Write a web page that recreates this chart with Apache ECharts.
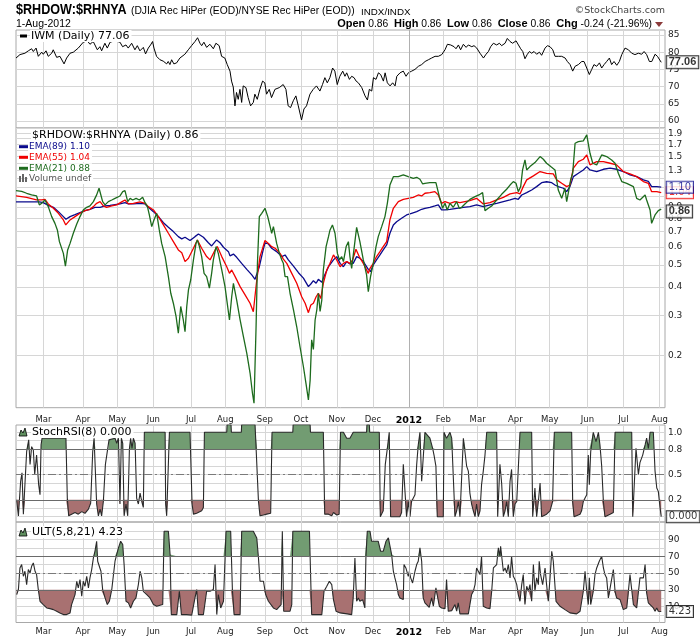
<!DOCTYPE html>
<html><head><meta charset="utf-8">
<script src="https://cdn.jsdelivr.net/npm/echarts@6.0.0/dist/echarts.min.js"></script>
<style>html,body{margin:0;padding:0;background:#fff}#c{width:700px;height:639px}</style>
</head><body><div id="c"></div>
<script>
// ---- x axis: trading-day index (0 = first session shown, early Feb 2011) ----
const monthStarts = [16,39,59,80,102,122,145,166,187,208,229,249,269,291,311,333,354,375];
const monthLabels = ['Mar','Apr','May','Jun','Jul','Aug','Sep','Oct','Nov','Dec','2012','Feb','Mar','Apr','May','Jun','Jul','Aug'];
const lastIdx = 376;

// ---- IWM (Daily) ----
const iwm = [[0,78.3],[2.3,79.3],[5.2,79.7],[7.2,80.4],[9.1,81.0],[10.1,80.2],[11.7,81.2],[13.0,78.8],[15.0,80.0],[15.9,79.4],[17.5,80.4],[18.8,78.8],[20.8,79.7],[21.7,80.7],[23.7,78.5],[25.6,78.8],[28.0,76.6],[29.5,78.3],[31.5,79.7],[33.4,80.0],[36.3,81.2],[39.2,82.9],[41.6,83.3],[43.1,82.3],[45.0,83.1],[47.4,80.7],[48.9,81.6],[49.9,80.4],[51.8,82.6],[53.2,81.2],[54.8,82.9],[57.7,83.3],[60.6,82.9],[62.1,81.6],[64.1,82.1],[65.4,81.2],[67.4,82.6],[69.3,80.7],[70.7,81.9],[72.2,80.4],[74.2,81.4],[75.5,79.5],[77.1,81.2],[78.4,82.1],[79.6,83.1],[80.4,81.2],[81.9,78.8],[83.9,77.8],[85.8,77.4],[87.8,76.6],[88.7,77.3],[89.7,76.4],[90.7,77.8],[92.0,76.6],[93.6,76.9],[95.5,78.3],[96.5,77.8],[98.4,79.4],[100.4,80.7],[102.3,81.9],[104.3,83.1],[105.8,84.2],[107.2,82.6],[108.2,81.9],[109.5,82.9],[111.1,81.4],[113.0,82.3],[115.0,81.0],[116.5,82.6],[118.4,81.9],[119.8,78.8],[121.7,78.3],[123.1,76.4],[124.7,74.5],[125.6,71.6],[126.6,69.9],[127.6,64.4],[128.5,68.3],[129.5,66.3],[130.5,69.2],[131.5,65.4],[132.4,70.2],[134.0,69.7],[135.3,66.8],[136.7,64.4],[138.3,65.4],[139.2,67.8],[140.6,66.3],[142.1,69.2],[143.7,71.6],[145.0,71.1],[146.0,67.8],[147.6,69.2],[148.9,66.8],[150.9,69.2],[153.4,69.7],[155.7,70.6],[157.3,69.2],[158.6,64.4],[160.0,63.9],[161.6,65.9],[163.1,67.3],[164.5,64.4],[166.4,60.3],[167.8,63.5],[169.3,64.4],[171.3,67.8],[173.2,69.2],[175.1,70.2],[177.1,68.7],[178.6,70.6],[180.0,72.6],[181.4,71.1],[182.9,72.6],[184.5,75.4],[185.8,74.5],[187.2,70.6],[188.7,73.0],[190.4,74.5],[191.7,73.0],[192.7,74.0],[194.3,72.1],[195.6,73.0],[197.0,72.6],[198.2,71.6],[199.5,71.1],[201.5,69.7],[203.4,67.3],[204.8,66.1],[205.9,69.2],[207.3,68.7],[208.3,72.6],[209.8,72.1],[211.2,74.0],[212.5,73.5],[214.1,71.6],[215.1,74.0],[216.4,71.1],[218.0,70.2],[219.5,71.1],[220.9,70.2],[221.9,73.0],[223.8,74.0],[225.7,74.5],[227.3,73.0],[228.6,74.0],[230.6,74.5],[232.5,75.0],[234.5,75.9],[236.4,76.4],[238.4,77.3],[240.3,77.8],[242.2,78.3],[244.2,78.8],[246.1,78.8],[248.1,79.3],[250.0,80.7],[251.4,82.3],[253.3,82.1],[255.3,81.6],[256.4,81.0],[257.8,82.1],[259.1,80.7],[260.7,82.3],[262.3,81.4],[263.6,82.1],[265.6,81.6],[266.9,81.9],[268.5,81.2],[270.4,79.7],[272.4,78.3],[273.9,79.4],[275.3,80.2],[276.6,81.6],[278.2,82.6],[280.1,82.1],[281.7,82.6],[283.0,81.9],[285.0,82.6],[286.3,84.0],[287.9,83.1],[289.4,82.6],[291.4,83.3],[292.8,82.1],[294.1,81.0],[295.3,80.2],[296.6,78.1],[298.0,79.4],[299.2,80.2],[300.5,79.7],[301.9,80.2],[303.4,79.4],[305.0,80.0],[306.3,79.1],[308.3,81.2],[309.7,81.9],[311.2,81.6],[312.8,80.7],[314.1,78.8],[316.1,78.8],[318.0,78.8],[320.0,78.3],[321.3,77.3],[322.9,76.4],[324.4,74.5],[325.8,75.9],[327.7,76.4],[329.7,77.3],[331.0,77.3],[332.6,75.4],[334.1,73.5],[335.5,75.0],[336.8,76.4],[338.4,75.9],[340.0,76.9],[341.3,75.4],[342.7,76.4],[344.2,77.3],[345.8,78.3],[347.1,76.4],[348.5,77.3],[350.1,76.2],[351.6,77.3],[353.0,79.3],[354.9,81.2],[356.9,80.7],[358.8,79.7],[360.7,79.3],[362.7,79.7],[364.6,79.4],[366.0,80.2],[367.5,79.3],[369.1,77.3],[370.5,77.3],[372.4,79.4],[373.8,78.8],[376,77.06]];
const iwmLast = 77.06;

// ---- $RHDOW:$RHNYA EMAs ----
const ema89 = [[0,0.947],[13.6,0.947],[15.9,0.940],[18.8,0.915],[21.8,0.897],[24.7,0.858],[27.6,0.816],[29.1,0.794],[31.5,0.816],[34.4,0.832],[37.3,0.850],[40.2,0.867],[43.1,0.879],[46.0,0.897],[49.0,0.897],[51.9,0.909],[54.8,0.915],[57.7,0.922],[60.6,0.928],[63.5,0.940],[65.5,0.928],[68.4,0.928],[72.3,0.934],[75.2,0.928],[77.1,0.897],[80.1,0.858],[83.0,0.816],[85.9,0.767],[88.8,0.732],[91.7,0.701],[94.6,0.666],[96.6,0.651],[98.5,0.662],[101.4,0.640],[104.3,0.666],[106.3,0.684],[109.2,0.662],[112.1,0.626],[114.0,0.606],[116.9,0.644],[118.9,0.626],[120.9,0.598],[123.8,0.572],[124.7,0.548],[126.7,0.558],[128.6,0.540],[131.5,0.508],[134.5,0.478],[137.4,0.452],[139.3,0.432],[140.3,0.426],[141.8,0.491],[143.8,0.572],[145.1,0.626],[147.1,0.618],[149.0,0.592],[151.9,0.572],[154.9,0.544],[156.8,0.553],[158.7,0.526],[161.7,0.494],[164.6,0.462],[167.5,0.437],[170.4,0.401],[171.8,0.412],[173.3,0.426],[174.9,0.415],[176.2,0.432],[178.2,0.419],[179.5,0.444],[182.1,0.491],[185.0,0.526],[186.9,0.544],[188.9,0.508],[190.8,0.491],[192.7,0.517],[194.6,0.505],[196.5,0.508],[198.5,0.544],[200.4,0.535],[202.4,0.517],[205.3,0.478],[206.6,0.467],[208.2,0.500],[210.1,0.526],[212.1,0.553],[214.0,0.582],[216.0,0.612],[217.9,0.689],[219.9,0.750],[221.8,0.775],[224.7,0.802],[227.6,0.830],[230.5,0.844],[233.5,0.858],[236.4,0.879],[238.3,0.888],[241.2,0.897],[244.1,0.909],[246.1,0.919],[248.0,0.873],[250.0,0.873],[252.9,0.879],[256.8,0.888],[260.7,0.897],[264.5,0.903],[268.4,0.919],[272.3,0.903],[276.2,0.919],[280.1,0.934],[284.0,0.950],[287.9,0.966],[290.8,0.982],[292.7,0.973],[294.7,1.016],[297.6,1.041],[300.5,1.069],[303.4,1.106],[306.3,1.151],[309.2,1.162],[312.2,1.151],[314.1,1.124],[316.0,1.106],[319.0,1.088],[320.9,1.051],[322.8,1.106],[324.8,1.224],[327.7,1.266],[330.6,1.310],[332.6,1.355],[334.5,1.310],[338.4,1.289],[342.3,1.319],[346.2,1.333],[350.0,1.319],[353.9,1.289],[357.8,1.245],[361.7,1.224],[365.6,1.184],[368.5,1.167],[370.4,1.106],[373.4,1.106],[376,1.10]];
const ema55 = [[0,1.006],[6.2,0.992],[12.0,0.966],[15.0,0.966],[16.9,0.972],[18.8,0.928],[21.8,0.888],[24.7,0.844],[27.6,0.789],[29.0,0.750],[31.5,0.789],[34.4,0.816],[37.3,0.844],[40.2,0.867],[43.1,0.879],[45.1,0.903],[47.0,0.934],[49.0,0.950],[50.9,0.909],[52.8,0.897],[55.8,0.909],[58.7,0.919],[61.6,0.947],[63.5,0.966],[65.5,0.928],[68.4,0.934],[72.3,0.947],[75.2,0.934],[77.1,0.903],[80.1,0.873],[83.0,0.816],[85.9,0.750],[88.8,0.689],[91.7,0.633],[94.6,0.582],[96.6,0.566],[98.5,0.517],[100.5,0.535],[103.4,0.592],[105.7,0.644],[108.2,0.592],[111.1,0.544],[113.1,0.526],[116.0,0.582],[117.3,0.602],[119.9,0.544],[122.8,0.491],[124.4,0.459],[125.7,0.475],[127.7,0.444],[130.6,0.401],[133.5,0.369],[136.4,0.339],[138.3,0.311],[140.3,0.429],[142.2,0.544],[145.1,0.640],[147.1,0.622],[149.0,0.602],[151.0,0.592],[153.9,0.562],[155.8,0.530],[157.8,0.508],[160.7,0.459],[163.6,0.415],[166.5,0.362],[168.5,0.339],[170.4,0.308],[171.8,0.333],[173.3,0.339],[174.9,0.362],[176.2,0.375],[177.6,0.356],[179.1,0.415],[181.1,0.475],[183.0,0.508],[185.0,0.553],[186.9,0.526],[188.9,0.491],[190.8,0.508],[192.7,0.517],[194.6,0.508],[196.2,0.526],[198.1,0.586],[200.0,0.544],[202.4,0.508],[205.3,0.459],[206.3,0.483],[208.2,0.508],[210.1,0.544],[212.1,0.572],[214.0,0.602],[216.0,0.633],[217.9,0.789],[219.9,0.888],[222.8,0.950],[225.7,0.972],[228.6,0.982],[231.5,0.992],[234.4,1.016],[236.4,1.006],[238.3,1.034],[241.2,1.041],[244.1,1.051],[246.1,1.016],[248.0,0.934],[250.0,0.950],[252.9,0.934],[255.8,0.950],[258.7,0.940],[261.6,0.950],[264.5,0.960],[268.4,0.982],[272.3,0.928],[276.2,0.940],[280.1,0.966],[284.0,0.992],[287.9,1.027],[291.8,1.041],[293.7,1.027],[295.6,1.106],[297.6,1.184],[301.5,1.234],[305.4,1.289],[309.2,1.266],[313.1,1.258],[315.1,1.184],[318.0,1.144],[320.9,1.106],[322.8,1.124],[324.8,1.333],[327.7,1.426],[330.6,1.460],[332.6,1.525],[334.5,1.379],[338.4,1.426],[342.3,1.426],[346.2,1.402],[350.0,1.379],[353.9,1.289],[357.8,1.258],[361.7,1.224],[365.6,1.164],[368.5,1.144],[370.4,1.051],[373.4,1.051],[376,1.04]];
const ema21 = [[0,1.062],[3.3,1.055],[6.2,1.034],[9.1,1.017],[12.0,1.006],[13.6,0.919],[15.0,0.934],[16.9,0.966],[18.8,0.903],[20.8,0.816],[22.7,0.762],[24.1,0.713],[25.3,0.633],[26.2,0.644],[27.6,0.562],[28.8,0.494],[30.1,0.582],[31.5,0.622],[33.4,0.689],[35.4,0.757],[37.3,0.816],[39.2,0.873],[41.2,0.897],[43.1,0.909],[45.1,0.950],[47.0,1.017],[48.4,1.088],[49.5,1.106],[50.5,0.950],[51.9,0.919],[53.8,0.950],[55.8,0.966],[57.7,0.982],[60.6,1.006],[62.2,1.051],[63.5,1.062],[65.1,0.950],[66.5,0.982],[68.0,0.966],[70.0,0.982],[71.9,0.966],[73.8,0.992],[75.2,0.940],[76.6,0.903],[77.7,0.830],[79.1,0.737],[80.4,0.789],[82.0,0.844],[83.5,0.713],[84.9,0.622],[86.9,0.544],[88.8,0.444],[90.2,0.375],[91.7,0.339],[93.3,0.296],[94.6,0.250],[96.0,0.328],[97.5,0.286],[98.5,0.254],[99.5,0.328],[100.5,0.388],[101.8,0.429],[103.4,0.526],[104.9,0.622],[105.7,0.644],[106.9,0.602],[108.2,0.544],[109.6,0.459],[111.1,0.444],[112.7,0.395],[114.0,0.459],[115.0,0.526],[116.6,0.602],[117.9,0.562],[119.9,0.475],[121.8,0.401],[124.4,0.286],[125.7,0.362],[126.7,0.415],[128.6,0.350],[130.6,0.286],[132.5,0.242],[134.5,0.204],[136.4,0.167],[137.8,0.136],[138.7,0.123],[139.9,0.267],[140.7,0.508],[141.8,0.816],[143.2,0.844],[145.1,0.888],[146.7,0.816],[148.1,0.737],[149.0,0.689],[150.0,0.737],[151.9,0.622],[153.5,0.562],[154.9,0.526],[155.8,0.508],[156.8,0.444],[158.2,0.444],[159.7,0.375],[161.7,0.317],[163.6,0.267],[165.5,0.218],[167.5,0.178],[169.0,0.150],[170.4,0.127],[171.4,0.155],[172.3,0.234],[173.3,0.212],[174.3,0.286],[175.3,0.317],[176.2,0.375],[177.2,0.312],[178.2,0.350],[179.1,0.475],[180.7,0.602],[182.1,0.666],[183.0,0.713],[184.4,0.750],[185.9,0.689],[187.3,0.562],[188.5,0.526],[189.8,0.544],[190.8,0.517],[192.4,0.602],[193.7,0.633],[194.6,0.544],[195.6,0.483],[196.5,0.491],[198.5,0.732],[200.4,0.633],[202.4,0.526],[204.3,0.452],[205.3,0.381],[206.6,0.444],[208.2,0.508],[209.8,0.602],[211.1,0.666],[213.1,0.737],[215.0,0.816],[216.4,0.934],[217.9,1.124],[219.9,1.224],[222.8,1.224],[225.7,1.245],[228.6,1.224],[231.5,1.204],[233.5,1.216],[235.4,1.192],[237.0,1.136],[238.3,1.144],[241.2,1.151],[244.7,1.151],[246.7,0.999],[248.6,0.888],[250.0,0.934],[251.3,0.873],[252.9,0.934],[254.8,0.897],[256.8,0.950],[258.3,0.888],[259.7,0.897],[261.6,0.928],[264.5,0.972],[267.5,0.999],[270.4,1.023],[271.9,1.041],[273.3,0.867],[275.2,0.888],[277.2,0.909],[280.1,0.966],[283.0,1.023],[285.9,1.077],[287.9,1.124],[289.8,1.164],[291.4,1.144],[292.7,1.051],[294.1,1.106],[295.2,1.310],[296.6,1.450],[297.6,1.310],[299.5,1.355],[302.4,1.411],[305.4,1.500],[307.3,1.460],[309.2,1.402],[311.6,1.355],[314.1,1.310],[316.0,1.069],[318.0,0.982],[319.9,1.088],[320.9,0.950],[321.9,1.041],[323.2,1.184],[324.4,1.266],[325.8,1.717],[327.7,1.745],[330.6,1.760],[332.6,1.868],[334.5,1.551],[336.1,1.402],[338.4,1.379],[341.3,1.525],[344.2,1.500],[347.1,1.450],[349.1,1.402],[351.0,1.266],[353.0,1.164],[355.9,1.144],[359.8,1.106],[361.7,0.982],[363.6,0.966],[366.6,1.016],[367.5,0.966],[369.5,0.873],[370.4,0.762],[372.4,0.830],[374.3,0.867],[376,0.88]];
const ratioClose = 0.86;

// ---- StochRSI(8) ----
const stochRsi = [[0.4,0.20],[1.4,0.01],[2.7,0.42],[3.5,0.52],[4.3,0.03],[5.1,0.01],[6.2,0.77],[7.4,0.91],[8.2,0.62],[9.1,0.83],[10.1,0.79],[10.9,0.50],[12.0,0.73],[13.2,0.38],[14.0,0.26],[14.6,0.85],[15.2,0.93],[21.8,0.93],[29.1,0.93],[29.9,0.22],[30.7,0.01],[32.4,0.03],[34.4,0.05],[36.3,0.03],[38.3,0.06],[40.2,0.04],[42.2,0.09],[43.5,0.16],[44.7,0.77],[45.5,0.93],[46.2,0.93],[47.0,0.15],[48.0,0.01],[49.0,0.09],[49.9,0.01],[50.9,0.18],[52.1,0.62],[53.2,0.60],[54.2,0.91],[55.2,0.93],[57.7,0.93],[58.7,0.87],[59.7,0.93],[60.6,0.15],[61.4,0.93],[62.2,0.87],[63.0,0.01],[64.1,0.15],[65.1,0.01],[66.1,0.81],[66.8,0.93],[67.6,0.81],[68.4,0.93],[69.4,0.87],[70.3,0.22],[71.3,0.15],[72.3,0.28],[73.3,0.18],[74.2,0.11],[74.8,1.0],[86.9,1.0],[87.2,0.15],[87.8,0.01],[88.6,0.03],[89.4,1.0],[101.4,1.0],[102.6,0.15],[103.4,0.03],[105.3,0.04],[108.2,0.07],[109.2,0.11],[109.8,1.0],[122.8,1.0],[123.0,1.09],[125.3,1.09],[125.5,1.0],[131.3,1.0],[131.5,1.09],[139.3,1.09],[139.5,1.0],[140.3,1.0],[141.3,0.18],[142.2,0.01],[144.2,0.02],[146.1,0.03],[148.4,0.04],[149.2,1.0],[161.3,1.0],[161.5,1.09],[171.4,1.09],[171.6,1.0],[179.1,1.0],[179.9,0.03],[182.1,0.03],[184.0,0.01],[185.0,0.05],[186.9,0.02],[188.3,0.03],[189.1,1.0],[190.8,1.0],[192.7,0.93],[194.6,0.93],[196.5,1.0],[204.3,1.0],[204.5,1.09],[205.9,1.09],[206.1,1.0],[211.7,1.0],[212.3,0.0],[214.0,0.07],[215.2,0.62],[216.4,0.81],[217.5,1.0],[218.3,0.0],[223.7,0.0],[224.7,0.05],[225.7,0.62],[226.7,0.60],[227.6,0.0],[228.6,0.18],[229.6,0.0],[230.5,0.18],[231.5,0.20],[232.5,0.26],[233.5,0.62],[234.4,0.85],[235.4,1.0],[236.4,0.42],[237.3,0.40],[238.3,1.0],[239.3,1.0],[241.2,0.93],[242.8,0.81],[243.6,0.73],[244.7,0.60],[245.5,0.0],[249.0,0.0],[249.4,1.0],[250.9,0.93],[251.9,0.93],[252.9,1.0],[253.9,0.93],[254.8,0.93],[255.8,0.0],[256.8,0.07],[257.8,0.18],[258.7,0.0],[259.7,0.0],[260.7,0.93],[261.6,0.95],[262.6,0.60],[263.6,0.54],[264.5,0.28],[265.5,0.15],[266.5,0.07],[267.5,0.0],[268.4,0.15],[269.4,0.0],[270.4,0.07],[271.3,0.38],[272.3,0.54],[273.3,0.73],[274.3,1.0],[280.1,1.0],[280.7,0.0],[282.0,0.62],[283.0,0.40],[284.0,0.0],[285.0,0.07],[285.9,0.18],[286.9,0.0],[287.9,0.42],[288.8,0.56],[289.8,0.0],[290.8,0.15],[291.8,0.18],[293.7,1.0],[300.5,1.0],[301.1,0.0],[302.4,0.34],[303.4,0.0],[304.4,0.18],[305.4,0.40],[306.3,0.0],[309.2,0.03],[311.2,0.07],[312.7,0.18],[313.7,1.0],[323.8,1.0],[324.4,0.18],[325.2,0.0],[328.7,0.03],[329.6,0.07],[330.6,0.18],[331.6,0.22],[332.6,0.26],[333.5,0.73],[334.1,0.38],[334.9,0.77],[336.4,1.0],[338.0,0.89],[339.4,1.0],[340.3,0.85],[341.3,0.60],[342.3,0.18],[343.2,0.0],[346.2,0.03],[348.1,0.05],[349.1,1.0],[358.8,1.0],[359.4,0.0],[360.1,0.0],[361.3,0.81],[362.7,0.50],[363.6,0.64],[365.2,0.73],[366.6,0.85],[367.5,0.93],[368.5,0.81],[369.5,1.0],[371.4,1.0],[372.4,0.54],[373.4,0.34],[374.3,0.30],[375.3,0.11],[376,0.0]];
const stochLast = '0.000';

// ---- ULT(5,8,21) ----
const ult = [[0.4,24.4],[1.4,30.3],[2.3,56.0],[3.3,60.0],[4.3,46.1],[5.2,52.1],[6.2,36.2],[7.2,54.1],[8.2,50.1],[9.1,58.0],[10.1,62.0],[11.1,52.1],[12.0,48.1],[13.0,30.3],[14.0,16.4],[15.9,12.5],[17.9,8.5],[19.8,7.7],[21.8,6.5],[23.7,4.6],[25.6,2.6],[27.6,0.6],[29.5,0.6],[31.5,2.6],[32.4,12.5],[33.4,14.5],[34.4,24.4],[35.4,40.2],[36.3,32.3],[37.3,42.2],[38.3,22.4],[39.2,40.2],[40.2,34.3],[41.2,46.1],[42.2,32.3],[43.1,44.2],[44.1,54.1],[45.1,67.9],[46.0,75.8],[47.0,87.7],[47.6,64.0],[48.6,65.9],[49.5,52.1],[50.5,30.3],[51.9,20.4],[53.2,12.5],[54.4,16.4],[55.8,30.3],[57.7,64.0],[59.7,79.8],[61.0,87.7],[62.2,83.8],[63.0,60.0],[64.1,16.4],[65.5,14.5],[66.8,8.5],[68.4,16.4],[69.9,20.4],[71.3,36.2],[72.3,52.1],[73.3,44.2],[74.2,28.3],[76.2,24.4],[78.1,20.4],[80.1,12.5],[82.0,10.5],[83.9,11.7],[85.5,12.5],[86.3,99.6],[88.8,99.6],[89.8,71.9],[90.5,0.6],[93.7,0.6],[95.2,28.3],[96.4,0.6],[99.5,0.6],[102.4,0],[104.3,20.4],[105.3,30.3],[106.3,0.6],[109.2,0.6],[111.1,28.3],[113.1,28.3],[115.0,30.3],[116.0,60.0],[117.0,0.6],[117.9,24.4],[119.3,8.5],[120.9,16.4],[122.4,99.6],[125.1,99.6],[126.1,30.3],[127.1,0.6],[130.6,0.6],[131.5,99.6],[138.3,99.6],[140.3,91.7],[141.3,67.9],[142.2,40.2],[144.2,40.2],[145.5,24.4],[147.1,16.4],[150.0,8.5],[151.9,6.5],[154.5,12.5],[155.2,99.6],[156.0,4.6],[159.7,4.6],[160.7,12.5],[161.3,99.6],[171.0,99.6],[172.3,0.6],[178.2,0.6],[179.5,28.3],[181.1,34.3],[182.6,40.2],[184.0,36.2],[185.0,18.4],[186.5,4.6],[188.9,2.6],[193.0,1.4],[195.6,0.6],[196.5,20.4],[197.5,67.9],[198.5,16.4],[199.5,20.4],[200.4,16.4],[202.0,18.4],[203.3,8.5],[203.9,67.9],[204.7,99.6],[206.3,99.6],[207.2,87.7],[209.2,87.7],[211.1,87.7],[212.5,75.8],[214.0,75.8],[215.6,87.7],[217.0,91.7],[217.9,93.7],[218.9,71.9],[219.9,52.1],[220.8,44.2],[221.8,36.2],[222.8,24.4],[223.7,20.4],[224.7,22.4],[225.7,18.4],[226.1,60.0],[227.2,56.0],[228.6,46.1],[229.2,52.1],[230.0,44.2],[231.1,38.2],[232.5,52.1],[233.5,60.0],[234.4,64.0],[235.4,79.8],[236.4,64.0],[237.3,20.4],[238.3,14.5],[239.3,12.5],[240.8,9.3],[242.2,20.4],[243.2,10.5],[244.7,32.3],[245.5,34.3],[246.7,10.5],[248.0,8.5],[250.0,7.7],[250.9,42.2],[251.9,4.6],[253.9,5.3],[255.8,12.5],[256.8,4.6],[257.7,14.5],[258.7,1.4],[263.6,1.4],[264.5,12.5],[265.5,24.4],[266.5,28.3],[267.5,36.2],[268.4,56.0],[269.4,52.1],[270.4,48.1],[271.3,69.9],[272.3,10.5],[274.3,8.5],[276.2,7.7],[277.2,28.3],[278.2,56.0],[280.1,60.0],[281.1,79.8],[282.0,69.9],[282.4,81.8],[284.0,52.1],[285.0,56.0],[285.9,50.1],[286.9,60.0],[287.9,44.2],[288.8,69.9],[289.8,46.1],[290.8,42.2],[291.8,36.2],[292.7,24.4],[293.7,16.4],[294.7,36.2],[295.6,48.1],[296.6,12.5],[297.6,34.3],[298.6,28.3],[299.5,36.2],[300.5,16.4],[301.5,60.0],[302.4,28.3],[303.4,44.2],[304.4,36.2],[304.9,64.0],[305.7,48.1],[306.9,36.2],[308.3,56.0],[309.2,36.2],[310.2,16.4],[311.2,44.2],[312.2,75.8],[313.1,64.0],[314.7,16.4],[317.0,10.5],[319.9,6.5],[322.8,2.6],[326.7,1.4],[328.7,4.6],[330.6,28.3],[331.6,52.1],[332.6,28.3],[333.5,12.5],[334.1,44.2],[334.9,12.5],[336.4,28.3],[337.4,48.1],[338.4,56.0],[339.9,64.0],[341.3,69.9],[342.3,56.0],[343.2,48.1],[344.2,44.2],[345.2,20.4],[346.2,22.4],[348.1,54.1],[349.1,28.3],[350.0,20.4],[352.0,18.4],[353.9,6.5],[354.9,8.5],[355.9,8.5],[356.8,6.5],[357.8,48.1],[358.8,50.1],[359.8,12.5],[361.7,8.5],[363.6,44.2],[364.6,42.2],[365.6,44.2],[366.6,60.0],[367.5,26.3],[368.5,14.5],[369.5,12.5],[371.4,8.5],[372.4,4.6],[373.4,8.5],[374.3,4.6],[376,4.23]];
const ultLast = 4.23;

// ---- axis ticks ----
const iwmTicks = [60,65,70,75,80,85];
const ratioGrid = [0.2,0.3,0.4,0.5,0.6,0.7,0.8,0.9,1.0,1.1,1.2,1.3,1.4,1.5,1.6,1.7,1.8,1.9,2.0];
const ratioLabels = [0.2,0.3,0.4,0.5,0.6,0.7,0.8,0.9,1.1,1.3,1.5,1.7,1.9];
const stochGrid = [0,0.1,0.2,0.3,0.4,0.5,0.6,0.7,0.8,0.9,1.0];
const stochLabels = [0.2,0.5,0.8,1.0];
const ultGrid = [0,10,20,30,40,50,60,70,80,90,100];
const ultLabels = [10,30,50,70,90];

// ---------------------------------------------------------------
const FONT = "'DejaVu Sans', Verdana, sans-serif";
const ARIAL = "'Liberation Sans', Arial, sans-serif";
const GRID_C = '#d6d6d6';
const XMAX = 378.2;
const lg = v => Math.log10(v);
const toLog = arr => arr.map(p => [p[0], lg(p[1])]);

function clipAt(pts, t, above) {
  const out = [];
  for (let i = 0; i < pts.length; i++) {
    const [x, v] = pts[i];
    if (i > 0) {
      const [px, pv] = pts[i - 1];
      if ((pv - t) * (v - t) < 0) out.push([px + (t - pv) / (v - pv) * (x - px), t]);
    }
    out.push([x, above ? Math.max(v, t) : Math.min(v, t)]);
  }
  return out;
}

const gridsDef = [[30, 98], [128, 279.7], [425, 97], [522, 100.5]];
const grid = gridsDef.map(([t, h]) => ({left: 16, width: 649, top: t, height: h, show: true,
  borderColor: '#a8a8a8', borderWidth: 1, backgroundColor: 'rgba(0,0,0,0)'}));

const xAxis = [0, 1, 2, 3].map(i => ({
  type: 'value', gridIndex: i, min: 0, max: XMAX,
  axisLine: {show: false},
  axisTick: {show: false, customValues: monthStarts},
  axisLabel: {show: i === 1 || i === 3, customValues: monthStarts, margin: i === 1 ? 8 : 5,
    fontSize: 8.5, fontFamily: FONT, color: '#222',
    formatter: v => { const s = monthLabels[monthStarts.indexOf(Math.round(v))]; return /^\d{4}$/.test(s) ? '{y|' + s + '}' : s; },
    rich: {y: {fontWeight: 'bold', fontSize: 9.5, fontFamily: FONT, color: '#000'}}},
  splitLine: {show: true, lineStyle: {color: GRID_C, width: 1}}
}));

function yAx(i, min, max, gridVals, labelVals, fmt) {
  return {type: 'value', gridIndex: i, position: 'right', min: min, max: max,
    axisLine: {show: false},
    axisTick: {show: false, customValues: gridVals},
    axisLabel: {customValues: labelVals, margin: 3, fontSize: 9, fontFamily: FONT, color: '#222', formatter: fmt},
    splitLine: {show: true, lineStyle: {color: GRID_C, width: 1}}};
}
const yAxis = [
  yAx(0, 57.97, 86.45, iwmTicks, iwmTicks, v => String(Math.round(v))),
  yAx(1, -0.930, 0.302, ratioGrid.map(lg), ratioLabels.map(lg), v => Math.pow(10, v).toFixed(1)),
  yAx(2, -0.063, 1.0865, stochGrid, stochLabels, v => v.toFixed(1)),
  yAx(3, -8.8, 110.6, ultGrid, ultLabels, v => String(Math.round(v)))
];

const yearLine = (color) => ({xAxis: monthStarts[monthLabels.indexOf('2012')], lineStyle: {color: color, type: 'solid', width: 1}});

function lineS(xi, data, color, width, extra) {
  return Object.assign({type: 'line', xAxisIndex: xi, yAxisIndex: xi, data: data, symbol: 'none',
    lineStyle: {color: color, width: width}, itemStyle: {color: color}, silent: true, z: 3, animation: false}, extra || {});
}
function fillS(xi, data, t, above, color) {
  return {type: 'line', xAxisIndex: xi, yAxisIndex: xi, data: clipAt(data, t, above), symbol: 'none',
    lineStyle: {opacity: 0, width: 0}, areaStyle: {color: color, opacity: 1, origin: t}, silent: true, z: 1, animation: false};
}
function refLines(hi, mid, lo) {
  return {silent: true, symbol: 'none', animation: false, label: {show: false},
    lineStyle: {color: '#6a6a6a', width: 1, type: 'solid'},
    data: [{yAxis: hi}, {yAxis: lo}, {yAxis: mid, lineStyle: {color: '#7a7a7a', type: [8, 3, 2, 3], width: 1}}, yearLine('#b0b0b0')]};
}
function valueBox(xi, y, text, color, border, bold) {
  return {type: 'scatter', xAxisIndex: xi, yAxisIndex: xi, data: [[lastIdx, y]], symbolSize: 1,
    itemStyle: {color: 'rgba(0,0,0,0)'}, silent: true, z: 10, animation: false,
    label: {show: true, position: 'right', distance: 5, formatter: text, fontFamily: bold ? ARIAL : FONT,
      fontSize: bold ? 11 : 10, fontWeight: bold ? 'bold' : 'normal', color: color,
      backgroundColor: '#fff', borderColor: border, borderWidth: 1, padding: [1, 2, 0, 2]}};
}

const GREEN_F = '#729c72', RED_F = '#a87171';
const series = [
  lineS(0, iwm, '#000', 1, {markLine: {silent: true, symbol: 'none', animation: false, label: {show: false}, data: [yearLine('#b0b0b0')]}}),
  lineS(1, toLog(ema89), '#0a0a8c', 1.3, {markLine: {silent: true, symbol: 'none', animation: false, label: {show: false}, data: [yearLine('#b0b0b0')]}}),
  lineS(1, toLog(ema55), '#f00000', 1.3),
  lineS(1, toLog(ema21), '#1d6b1d', 1.3),
  fillS(2, stochRsi, 0.8, true, GREEN_F),
  fillS(2, stochRsi, 0.2, false, RED_F),
  lineS(2, stochRsi, '#2a2a2a', 1.1, {markLine: refLines(0.8, 0.5, 0.2)}),
  fillS(3, ult, 70, true, GREEN_F),
  fillS(3, ult, 30, false, RED_F),
  lineS(3, ult, '#2a2a2a', 1.1, {markLine: refLines(70, 50, 30)}),
  valueBox(0, iwmLast, iwmLast.toFixed(2), '#000', '#000', true),
  valueBox(1, lg(ema55[ema55.length - 1][1]), ema55[ema55.length - 1][1].toFixed(2), '#f00000', '#f00000', false),
  valueBox(1, lg(ema89[ema89.length - 1][1]), ema89[ema89.length - 1][1].toFixed(2), '#0a0a8c', '#0a0a8c', false),
  valueBox(1, lg(ratioClose), ratioClose.toFixed(2), '#000', '#000', true),
  valueBox(2, 0, stochLast, '#000', '#000', false),
  valueBox(3, ultLast, ultLast.toFixed(2), '#000', '#000', false)
];

// ---- texts ----
const T = (x, y, text, style, extra) => Object.assign({type: 'text', x: x, y: y, z: 20, silent: true,
  style: Object.assign({text: text, verticalAlign: 'middle', fill: '#000', fontFamily: FONT, fontSize: 10}, style || {})}, extra || {});
const legendBg = {backgroundColor: '#fff', padding: [1, 2, 0, 1]};
const mountain = (x, y) => ({type: 'polygon', z: 20, silent: true,
  shape: {points: [[x, y + 8], [x + 2, y + 2], [x + 4, y + 5], [x + 6, y], [x + 8, y + 8]]},
  style: {fill: '#5f8f5f', stroke: '#000', lineWidth: 0.8}});
const dash = (x, y, w, color) => ({type: 'rect', z: 20, silent: true, shape: {x: x, y: y - 1.5, width: w, height: 3}, style: {fill: color}});

const graphic = [
  T(16, 10, '$RHDOW:$RHNYA', {fontFamily: ARIAL, fontWeight: 'bold', fontSize: 15}, {scaleX: 0.84}),
  T(131, 11.5, '(DJIA Rec HiPer (EOD)/NYSE Rec HiPer (EOD))', {fontFamily: ARIAL, fontSize: 10.3}),
  T(361, 12, 'INDX/INDX', {fontFamily: ARIAL, fontSize: 9.8}),
  T(665, 11, '\u00A9StockCharts.com', {align: 'right', fontFamily: FONT, fontSize: 9.5, fill: '#444'}),
  T(16, 24, '1-Aug-2012', {fontFamily: ARIAL, fontSize: 10.5}),
  T(652, 24, '{b|Open} 0.86  {b|High} 0.86  {b|Low} 0.86  {b|Close} 0.86  {b|Chg} -0.24 (-21.96%)', {
    align: 'right', fontFamily: ARIAL, fontSize: 10.3,
    rich: {b: {fontFamily: ARIAL, fontWeight: 'bold', fontSize: 11}}}),
  {type: 'polygon', z: 20, silent: true, shape: {points: [[655, 22], [663, 22], [659, 27]]}, style: {fill: '#8b3a3a'}},
  dash(20, 36, 7, '#000'),
  T(30, 36, 'IWM (Daily) 77.06', Object.assign({fontSize: 11}, legendBg)),
  T(31, 135.5, '$RHDOW:$RHNYA (Daily) 0.86', Object.assign({fontSize: 11}, legendBg)),
  dash(19, 146.7, 9, '#0a0a8c'), T(28, 146.7, 'EMA(89) 1.10', Object.assign({fill: '#0a0a8c', fontSize: 9}, legendBg)),
  dash(19, 157.3, 9, '#f00000'), T(28, 157.3, 'EMA(55) 1.04', Object.assign({fill: '#f00000', fontSize: 9}, legendBg)),
  dash(19, 168.3, 9, '#1d6b1d'), T(28, 168.3, 'EMA(21) 0.88', Object.assign({fill: '#1d6b1d', fontSize: 9}, legendBg)),
  {type: 'rect', z: 20, silent: true, shape: {x: 19, y: 176, width: 2, height: 6}, style: {fill: '#666'}},
  {type: 'rect', z: 20, silent: true, shape: {x: 22, y: 174, width: 2, height: 8}, style: {fill: '#666'}},
  {type: 'rect', z: 20, silent: true, shape: {x: 25, y: 177, width: 2, height: 5}, style: {fill: '#666'}},
  T(28, 179, 'Volume undef', Object.assign({fill: '#555', fontSize: 9}, legendBg)),
  mountain(19, 428), T(31, 432, 'StochRSI(8) 0.000', Object.assign({fontSize: 11}, legendBg)),
  mountain(19, 528), T(31, 532, 'ULT(5,8,21) 4.23', Object.assign({fontSize: 11}, legendBg))
];

const chart = echarts.init(document.getElementById('c'), null, {renderer: 'canvas', width: 700, height: 639});
chart.setOption({animation: false, backgroundColor: '#fff', grid: grid, xAxis: xAxis, yAxis: yAxis, series: series, graphic: graphic});
</script></body></html>
